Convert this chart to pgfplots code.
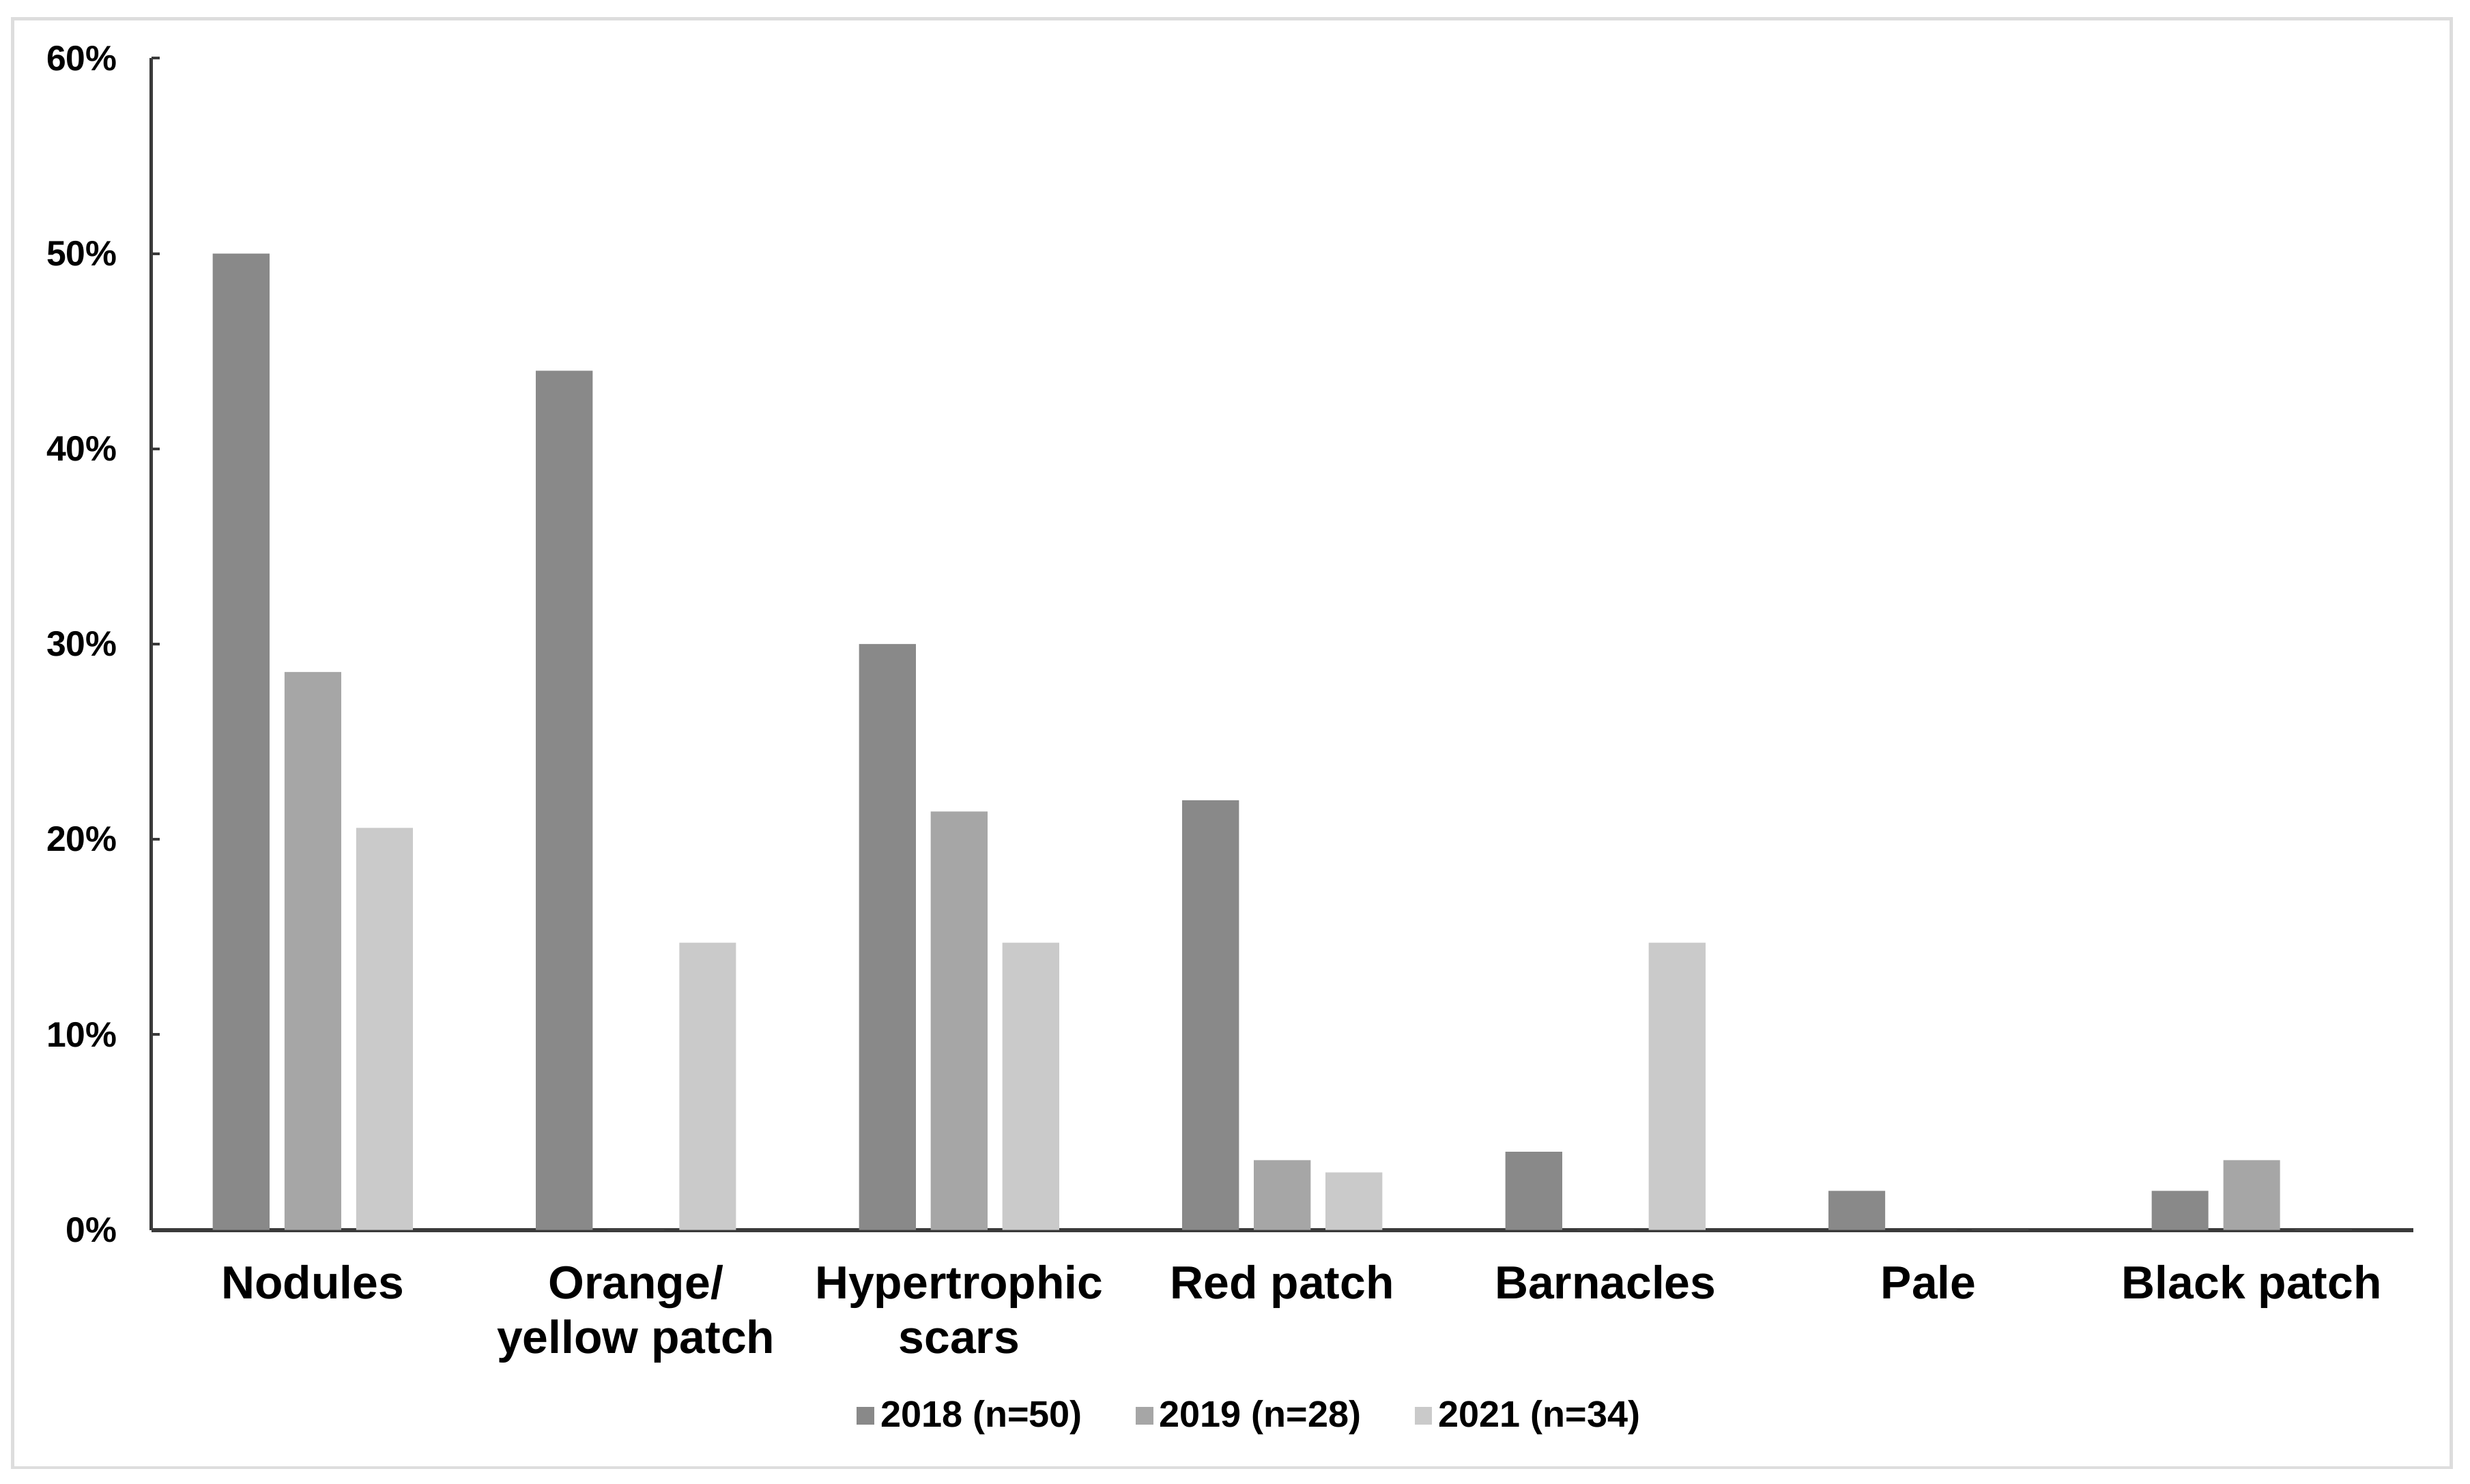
\documentclass[border=0pt]{standalone}
\usepackage{fontspec}
\setmainfont{Liberation Sans}
\usepackage{pgfplots}
\pgfplotsset{compat=1.18}
\definecolor{c18}{HTML}{898989}
\definecolor{c19}{HTML}{A6A6A6}
\definecolor{c21}{HTML}{CACACA}
\definecolor{bordergray}{HTML}{DDDDDD}
\definecolor{axisgray}{HTML}{3A3A3A}
\begin{document}
\begin{tikzpicture}
\path[use as bounding box] (-48pt,-80.5pt) rectangle (736pt,390.5pt);
\draw[color=bordergray, line width=1pt] (-44pt,-75.5pt) rectangle (730pt,384.5pt);
\begin{axis}[
  at={(0pt,0pt)}, anchor=south west,
  scale only axis, width=718pt, height=372pt,
  xmin=-0.5, xmax=6.5, ymin=0, ymax=60,
  ybar=4.75pt, bar width=18pt,
  axis x line*=bottom, axis y line*=left,
  x axis line style={-, line width=1.3pt, color=axisgray},
  y axis line style={-, line width=0.9pt, color=axisgray},
  xtick={0,...,6},
  xticklabels={Nodules, {Orange/\\yellow patch}, {Hypertrophic\\scars}, Red patch, Barnacles, Pale, Black patch},
  xtick style={draw=none},
  xticklabel style={align=center, font=\fontsize{14.7}{17.5}\selectfont\bfseries, yshift=-7.6pt},
  ytick={0,10,...,60},
  yticklabel={\pgfmathprintnumber{\tick}\%},
  yticklabel style={font=\fontsize{11.2}{13}\selectfont\bfseries, xshift=-7.3pt},
  /pgf/number format/assume math mode=true,
  tick align=inside, major tick length=2.8pt,
  ytick style={line width=0.9pt, color=axisgray},
  legend columns=3,
  legend style={at={(0.4865,-0.1586)}, anchor=center, draw=none, fill=none,
    font=\fontsize{11.7}{14}\selectfont\bfseries,
    /tikz/every even column/.append style={column sep=15pt}},
  legend image code/.code={\fill[#1, draw=none] (0pt,-2.75pt) rectangle (5.5pt,2.75pt);},
]
\addplot[fill=c18, draw=none] coordinates {(0,50) (1,44) (2,30) (3,22) (4,4) (5,2) (6,2)};
\addplot[fill=c19, draw=none] coordinates {(0,28.57) (1,0) (2,21.43) (3,3.57) (4,0) (5,0) (6,3.57)};
\addplot[fill=c21, draw=none] coordinates {(0,20.59) (1,14.71) (2,14.71) (3,2.94) (4,14.71) (5,0) (6,0)};
\legend{2018 (n=50), 2019 (n=28), 2021 (n=34)}
\end{axis}
\end{tikzpicture}
\end{document}
